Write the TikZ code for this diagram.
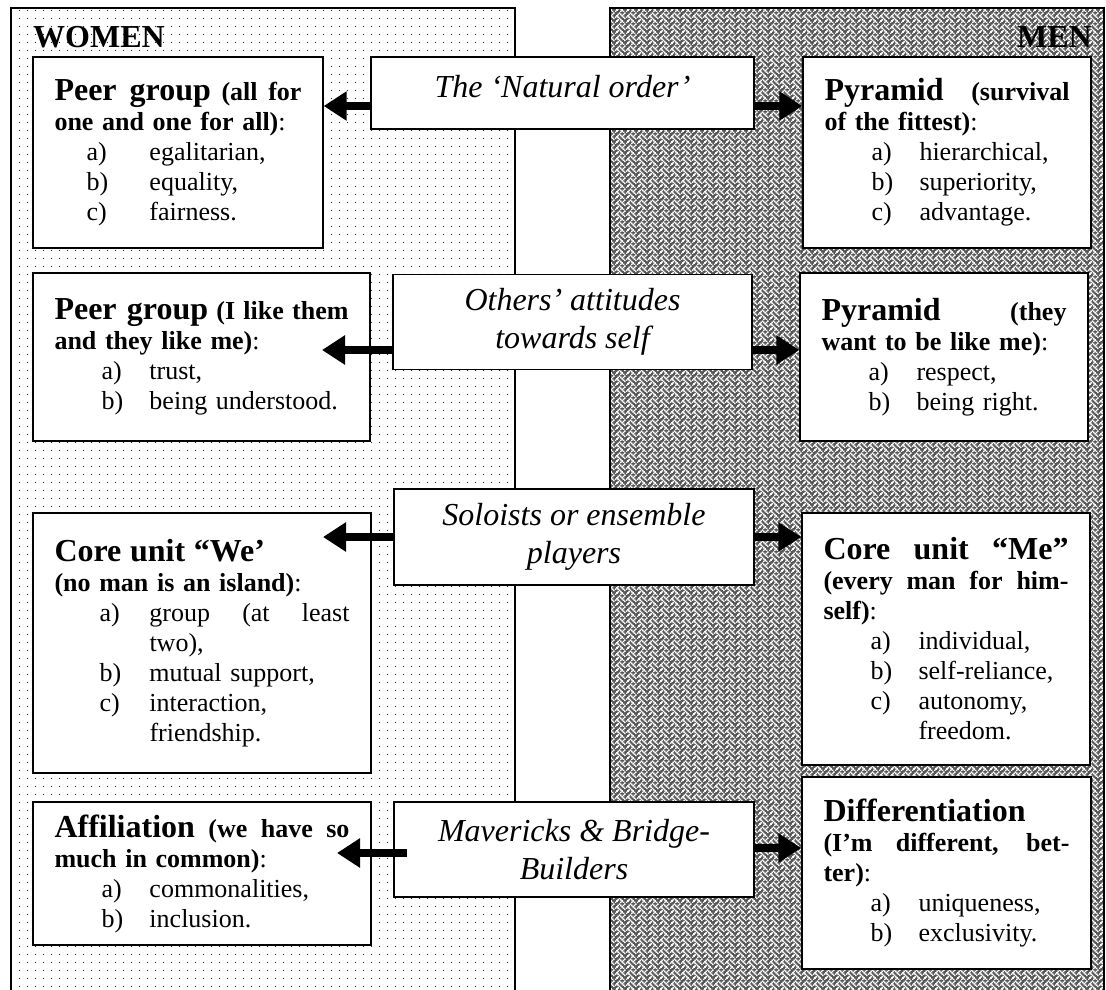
\documentclass[tikz,border=0pt]{standalone}
\usepackage{fontspec}
\setmainfont{Liberation Serif}
\usetikzlibrary{arrows.meta,patterns}

\pgfdeclarepatternformonly{wdots}{\pgfpointorigin}{\pgfqpoint{8pt}{8pt}}{\pgfqpoint{8pt}{8pt}}{%
  \pgfpathcircle{\pgfqpoint{4pt}{4pt}}{0.75pt}\pgfusepath{fill}}

\newcommand\wvpx[2]{\pgfpathrectangle{\pgfpoint{#1*1.4pt-0.15pt}{(7-#2)*1.4pt-0.15pt}}{\pgfpoint{1.7pt}{1.7pt}}}
\pgfdeclarepatternformonly{weave}{\pgfpointorigin}{\pgfqpoint{11.2pt}{11.2pt}}{\pgfqpoint{11.2pt}{11.2pt}}{%
  \wvpx{3}{0}\wvpx{7}{0}%
  \wvpx{2}{1}\wvpx{4}{1}\wvpx{6}{1}%
  \wvpx{1}{2}\wvpx{5}{2}%
  \wvpx{0}{3}\wvpx{2}{3}\wvpx{6}{3}%
  \wvpx{3}{4}\wvpx{7}{4}%
  \wvpx{2}{5}\wvpx{4}{5}%
  \wvpx{1}{6}\wvpx{5}{6}%
  \wvpx{0}{7}\wvpx{4}{7}\wvpx{6}{7}%
  \pgfusepath{fill}}

\newcommand\hdg{\fontsize{32}{37}\selectfont\bfseries}
\newcommand\subhd{\fontsize{26}{30}\selectfont\bfseries}
\newcommand\myitem[3]{\hspace*{#1}\makebox[\dimexpr95pt-#1\relax][l]{#2}#3}
\newcommand\jline[2]{\makebox[#1][s]{\spaceskip=0pt\xspaceskip=0pt #2}}
\newcommand\natsp{\spaceskip=\fontdimen2\font\relax\xspaceskip=\fontdimen2\font\relax}

\begin{document}
\begin{tikzpicture}[x=1pt,y=-1pt,
  sidebox/.style={draw, line width=1.4pt, fill=white, inner xsep=20pt, inner ysep=0pt, font=\fontsize{26}{30}\selectfont},
  midbox/.style={draw, line width=1.4pt, fill=white, inner sep=0pt, align=center, font=\fontsize{32}{38}\selectfont\itshape},
  conn/.style={line width=8pt, -{Triangle[length=23pt,width=28pt]}},
  paneltitle/.style={font=\fontsize{32}{37}\selectfont\bfseries, inner sep=0pt},
  panelframe/.style={line width=1.5pt}]

\useasboundingbox (0,0) rectangle (1106,990);
\fill[white] (0,0) rectangle (1106,990);

% panels
\fill[pattern=wdots, pattern color=black!80] (11,8) rectangle (515,1000);
\draw[panelframe] (11,1000) -- (11,8) -- (515,8) -- (515,1000);
\fill[black!66] (610,8) rectangle (1104,1000);
\fill[pattern=weave, pattern color=white] (610,8) rectangle (1104,1000);
\draw[panelframe] (610,1000) -- (610,8) -- (1104,8) -- (1104,1000);

\node[paneltitle, anchor=base west] (women) at (33,48) {WOMEN};
\node[paneltitle, anchor=base east] (men) at (1092,48) {MEN};

% row 1
\node[sidebox, minimum width=290pt, minimum height=191pt, text width=247pt] (L1) at (178,152.5) {%
\jline{247pt}{{\hdg Peer group} {\subhd (all for}}\\
{\subhd one and one for all)}:\\
\myitem{32pt}{a)}{egalitarian,}\\
\myitem{32pt}{b)}{equality,}\\
\myitem{32pt}{c)}{fairness.}};
\node[midbox, minimum width=383pt, minimum height=72pt, text width=370pt, text height=22pt, text depth=12pt] (M1) at (562.5,93) {\natsp The ‘Natural order’};
\node[sidebox, minimum width=288pt, minimum height=191pt, text width=245pt] (R1) at (947,152.5) {%
\jline{245pt}{{\hdg Pyramid} {\subhd (survival}}\\
{\subhd of the fittest)}:\\
\myitem{47pt}{a)}{hierarchical,}\\
\myitem{47pt}{b)}{superiority,}\\
\myitem{47pt}{c)}{advantage.}};

% row 2
\node[sidebox, minimum width=337pt, minimum height=168pt, text width=294pt] (L2) at (201.5,357) {%
\jline{294pt}{{\hdg Peer group} {\subhd (I like them}}\\
{\subhd and they like me)}:\\
\myitem{47pt}{a)}{trust,}\\
\myitem{47pt}{b)}{being understood.}};
\node[midbox, minimum width=359pt, minimum height=95pt, text width=345pt] (M2) at (572.5,322) {\natsp Others’ attitudes\\towards self};
\node[sidebox, minimum width=288pt, minimum height=168pt, text width=245pt] (R2) at (944,357) {%
\jline{245pt}{{\hdg Pyramid} {\subhd (they}}\\
{\subhd want to be like me)}:\\
\myitem{47pt}{a)}{respect,}\\
\myitem{47pt}{b)}{being right.}};

% row 3
\node[sidebox, minimum width=338pt, minimum height=260pt, text width=295pt] (L3) at (202,643) {%
{\hdg Core unit “We’}\\
{\subhd (no man is an island)}:\\
\myitem{45pt}{a)}{\jline{200pt}{group (at least}}\\
\hspace*{95pt}two),\\
\myitem{45pt}{b)}{mutual support,}\\
\myitem{45pt}{c)}{interaction,}\\
\hspace*{95pt}friendship.};
\node[midbox, minimum width=360pt, minimum height=96pt, text width=345pt] (M3) at (574,537) {\natsp Soloists or ensemble\\players};
\node[sidebox, minimum width=288pt, minimum height=252pt, text width=245pt] (R3) at (946,639) {%
\jline{245pt}{\hdg Core unit “Me”}\\
\jline{245pt}{\subhd (every man for him-}\\
{\subhd self)}:\\
\myitem{47pt}{a)}{individual,}\\
\myitem{47pt}{b)}{self-reliance,}\\
\myitem{47pt}{c)}{autonomy,}\\
\hspace*{95pt}freedom.};

% row 4
\node[sidebox, minimum width=338pt, minimum height=143pt, text width=295pt] (L4) at (202,873.5) {%
\jline{295pt}{{\hdg Affiliation} {\subhd (we have so}}\\
{\subhd much in common)}:\\
\myitem{47pt}{a)}{commonalities,}\\
\myitem{47pt}{b)}{inclusion.}};
\node[midbox, minimum width=360pt, minimum height=95pt, text width=345pt] (M4) at (574,849.5) {\natsp Mavericks \& Bridge-\\Builders};
\node[sidebox, minimum width=289pt, minimum height=192pt, text width=246pt] (R4) at (946.5,873) {%
{\hdg Differentiation}\\
\jline{246pt}{\subhd (I’m different, bet-}\\
{\subhd ter)}:\\
\myitem{47pt}{a)}{uniqueness,}\\
\myitem{47pt}{b)}{exclusivity.}};

% connectors
\coordinate (r1) at (0,106);
\draw[conn] (M1.west|-r1) -- (L1.east|-r1);
\draw[conn] (M1.east|-r1) -- (R1.west|-r1);
\coordinate (r2) at (0,350);
\coordinate (t2) at (322,350);
\draw[conn] (M2.west|-r2) -- (t2);
\draw[conn] (M2.east|-r2) -- (R2.west|-r2);
\coordinate (r3) at (0,537);
\coordinate (t3) at (323,537);
\draw[conn] (M3.west|-r3) -- (t3);
\draw[conn] (M3.east|-r3) -- (R3.west|-r3);
\coordinate (s4) at (407,853);
\coordinate (t4) at (337,853);
\draw[conn] (s4) -- (t4);
\coordinate (r4) at (0,848);
\draw[conn] (M4.east|-r4) -- (R4.west|-r4);
\end{tikzpicture}
\end{document}
